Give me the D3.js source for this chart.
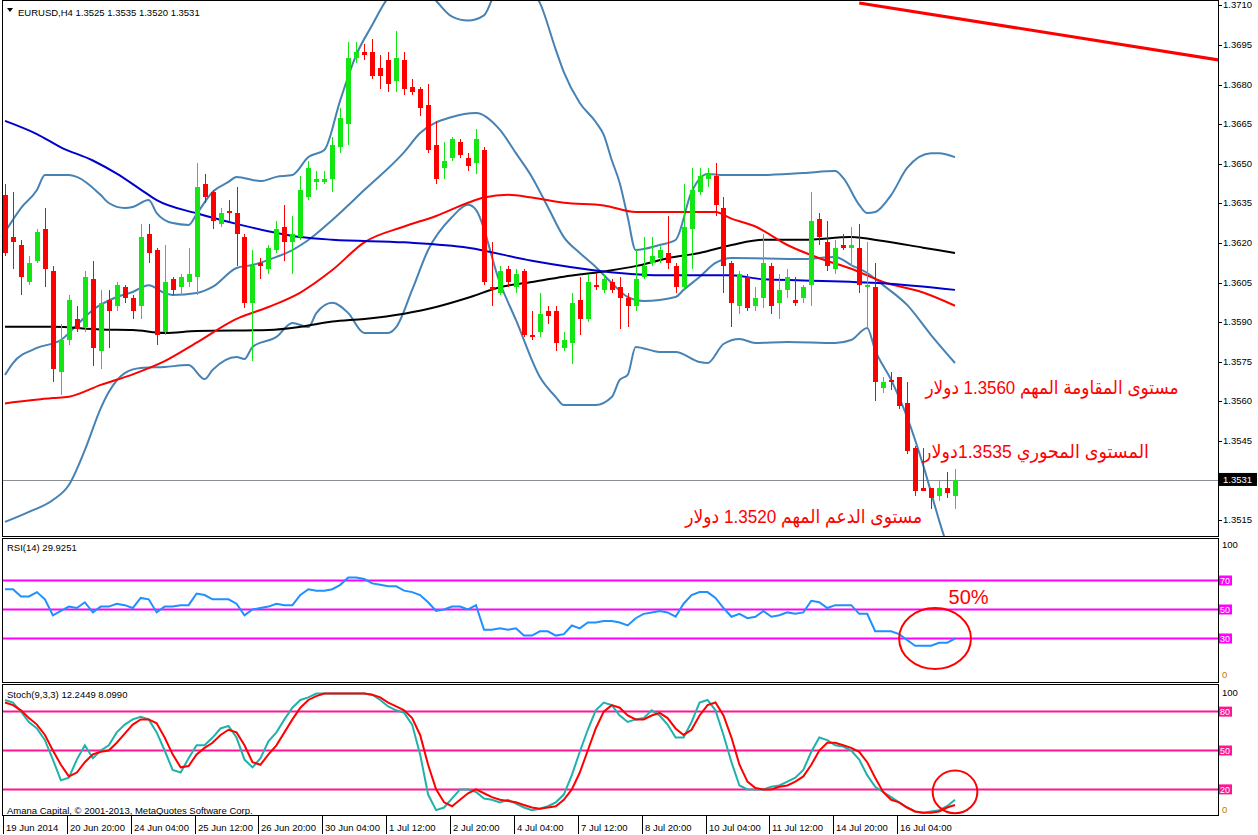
<!DOCTYPE html>
<html><head><meta charset="utf-8">
<script src="https://cdn.jsdelivr.net/npm/d3@7"></script>
<style>body{margin:0;background:#fff;}svg{display:block;}</style>
</head><body><svg id="c" width="1258" height="835"></svg>
<script>
// ---------------- DATA ----------------
const symbolTitle = "EURUSD,H4  1.3525 1.3535 1.3520 1.3531";
const rsiTitle = "RSI(14) 29.9251";
const stochTitle = "Stoch(9,3,3) 12.2449 8.0990";
const copyright = "Amana Capital, \u00A9 2001-2013, MetaQuotes Software Corp.";

const opens = [1.3639,1.3623,1.3620,1.3606,1.3614,1.3626,1.3610,1.3572,1.3584,1.3592,
1.3589,1.3607,1.3580,1.3599,1.3597,1.3604,1.3600,1.3597,1.3624,1.3618,
1.3587,1.3607,1.3604,1.3606,1.3608,1.3643,1.3640,1.3628,1.3633,1.3632,
1.3623,1.3598,1.3613,1.3611,1.3618,1.3627,1.3621,1.3623,1.3638,1.3644,
1.3644,1.3645,1.3657,1.3666,1.3691,1.3693,1.3693,1.3687,1.3690,1.3682,
1.3690,1.3680,1.3679,1.3673,1.3658,1.3649,1.3653,1.3659,1.3653,1.3651,
1.3656,1.3604,1.3602,1.3611,1.3604,1.3610,1.3586,1.3587,1.3595,1.3595,
1.3581,1.3583,1.3599,1.3592,1.3605,1.3603,1.3606,1.3604,1.3600,1.3597,
1.3608,1.3613,1.3615,1.3617,1.3612,1.3604,1.3626,1.3640,1.3645,1.3646,
1.3634,1.3613,1.3597,1.3608,1.3597,1.3600,1.3612,1.3598,1.3603,1.3599,
1.3600,1.3605,1.3630,1.3621,1.3611,1.3620,1.3619,1.3619,1.3604,1.3604,
1.3566,1.3569,1.3570,1.3560,1.3543,1.3528,1.3528,1.3525,1.3528,1.3525];
const highs = [1.3643,1.3640,1.3622,1.3616,1.3626,1.3634,1.3612,1.3590,1.3601,1.3597,
1.3610,1.3614,1.3603,1.3603,1.3606,1.3605,1.3601,1.3628,1.3628,1.3619,
1.3620,1.3608,1.3609,1.3619,1.3651,1.3647,1.3641,1.3634,1.3637,1.3642,
1.3624,1.3618,1.3615,1.3620,1.3629,1.3635,1.3631,1.3646,1.3652,1.3648,
1.3648,1.3661,1.3672,1.3697,1.3697,1.3696,1.3698,1.3692,1.3693,1.3701,
1.3693,1.3683,1.3680,1.3681,1.3667,1.3659,1.3661,1.3660,1.3655,1.3664,
1.3657,1.3621,1.3612,1.3612,1.3611,1.3611,1.3595,1.3602,1.3597,1.3597,
1.3587,1.3602,1.3608,1.3609,1.3609,1.3609,1.3607,1.3608,1.3602,1.3618,
1.3623,1.3623,1.3620,1.3631,1.3613,1.3643,1.3649,1.3649,1.3649,1.3651,
1.3638,1.3614,1.3610,1.3609,1.3604,1.3624,1.3613,1.3609,1.3611,1.3608,
1.3605,1.3640,1.3632,1.3629,1.3622,1.3624,1.3627,1.3628,1.3621,1.3613,
1.3570,1.3572,1.3570,1.3568,1.3544,1.3543,1.3528,1.3531,1.3534,1.3535];
const lows = [1.3616,1.3611,1.3601,1.3605,1.3613,1.3604,1.3568,1.3563,1.3582,1.3587,
1.3587,1.3574,1.3573,1.3581,1.3595,1.3598,1.3592,1.3592,1.3613,1.3582,
1.3586,1.3601,1.3601,1.3604,1.3601,1.3636,1.3626,1.3627,1.3629,1.3612,
1.3596,1.3576,1.3607,1.3609,1.3617,1.3614,1.3609,1.3622,1.3637,1.3641,
1.3643,1.3640,1.3655,1.3658,1.3689,1.3690,1.3683,1.3679,1.3678,1.3678,
1.3677,1.3677,1.3669,1.3655,1.3643,1.3645,1.3652,1.3653,1.3648,1.3647,
1.3605,1.3597,1.3601,1.3604,1.3602,1.3585,1.3584,1.3585,1.3590,1.3580,
1.3580,1.3575,1.3586,1.3591,1.3603,1.3602,1.3602,1.3588,1.3589,1.3595,
1.3607,1.3612,1.3613,1.3611,1.3602,1.3603,1.3611,1.3639,1.3642,1.3631,
1.3602,1.3589,1.3594,1.3595,1.3595,1.3596,1.3594,1.3592,1.3600,1.3597,
1.3598,1.3597,1.3620,1.3610,1.3609,1.3618,1.3612,1.3602,1.3589,1.3561,
1.3564,1.3565,1.3558,1.3541,1.3525,1.3527,1.3520,1.3523,1.3524,1.3520];
const closes = [1.3617,1.3621,1.3608,1.3613,1.3625,1.3611,1.3573,1.3584,1.3599,1.3588,
1.3608,1.3581,1.3598,1.3595,1.3605,1.3600,1.3595,1.3623,1.3617,1.3586,
1.3606,1.3603,1.3608,1.3609,1.3642,1.3638,1.3629,1.3632,1.3632,1.3624,
1.3598,1.3612,1.3612,1.3619,1.3626,1.3621,1.3624,1.3641,1.3649,1.3645,
1.3645,1.3658,1.3668,1.3691,1.3693,1.3692,1.3684,1.3684,1.3681,1.3691,
1.3679,1.3678,1.3672,1.3656,1.3645,1.3652,1.3660,1.3654,1.3650,1.3660,
1.3606,1.3603,1.3610,1.3606,1.3609,1.3586,1.3585,1.3594,1.3593,1.3583,
1.3584,1.3598,1.3592,1.3606,1.3604,1.3607,1.3603,1.3600,1.3597,1.3607,
1.3612,1.3616,1.3618,1.3613,1.3604,1.3627,1.3641,1.3646,1.3647,1.3635,
1.3612,1.3598,1.3609,1.3596,1.3600,1.3613,1.3597,1.3603,1.3608,1.3598,
1.3604,1.3629,1.3623,1.3612,1.3619,1.3619,1.3620,1.3605,1.3605,1.3568,
1.3568,1.3568,1.3559,1.3542,1.3527,1.3527,1.3524,1.3528,1.3526,1.3531];

// moving averages / bollinger bands sampled at [bar index, price]
const maBlue = [[0,1.3667],[4,1.3662],[7,1.3657],[11,1.3652],[14,1.3647],[17,1.3641],[19,1.3637],[24,1.3632],[29,1.3628],[37,1.3623],[41,1.3622],[50,1.3621],[58,1.3619],[66,1.3614],[75,1.3610],[83,1.36085],[91,1.36085],[95,1.3607],[100,1.36066],[110,1.36055],[119,1.3603]];
const maRed = [[0,1.3560],[6,1.3562],[8,1.35625],[12,1.3567],[16,1.3571],[20,1.3576],[24,1.3583],[29,1.3592],[33,1.35965],[37,1.3602],[41,1.36105],[45,1.3621],[50,1.3627],[54,1.3631],[58,1.3636],[60,1.3638],[63,1.3639],[66,1.3638],[70,1.3636],[75,1.3635],[79,1.36325],[83,1.36325],[89,1.36325],[91,1.3630],[94,1.3627],[98,1.3620],[102,1.3615],[106,1.3611],[110,1.3606],[115,1.3602],[119,1.3597]];
const maBlack = [[0,1.3589],[6,1.3589],[12,1.3588],[16,1.35878],[20,1.35867],[24,1.35874],[33,1.35878],[37,1.3589],[41,1.3591],[45,1.3592],[50,1.3594],[54,1.35965],[58,1.3600],[62,1.3604],[66,1.3606],[70,1.3608],[75,1.3610],[79,1.3612],[83,1.3615],[87,1.3617],[91,1.3620],[95,1.3622],[100,1.3622],[106,1.3623],[110,1.36215],[115,1.3619],[119,1.3617]];
const bbUpper = [[0,1.36249],[2,1.36340],[4,1.36408],[5,1.36465],[8,1.36465],[9,1.36458],[12,1.36389],[13,1.36359],[15,1.36340],[16,1.36344],[18,1.36370],[19,1.36321],[21,1.36283],[23,1.36276],[24,1.36317],[26,1.36401],[28,1.36439],[29,1.36458],[32,1.36442],[34,1.36458],[36,1.36465],[38,1.36533],[40,1.36560],[42,1.36749],[44,1.36920],[46,1.37033],[48,1.37136],[50,1.37170],[53,1.37150],[56,1.37065],[58,1.37050],[60,1.37070],[62,1.37190],[64,1.37204],[66,1.37166],[67,1.37117],[69,1.36939],[70,1.36855],[72,1.36738],[74,1.36666],[75,1.36617],[76,1.36522],[77,1.36435],[78,1.36306],[79,1.36181],[82,1.36200],[84,1.36219],[86,1.36401],[88,1.36469],[90,1.36465],[94,1.36465],[100,1.36473],[104,1.36480],[105,1.36454],[107,1.36352],[108,1.36321],[109,1.36325],[111,1.36389],[113,1.36492],[116,1.36548],[117,1.36548],[119,1.36533]];
const bbMiddle = [[0,1.35708],[1,1.35753],[4,1.35810],[7,1.35840],[9,1.35897],[11,1.35954],[14,1.36003],[16,1.36022],[18,1.36048],[20,1.36018],[21,1.36011],[24,1.36018],[26,1.36041],[29,1.36113],[31,1.36124],[34,1.36155],[36,1.36181],[38,1.36219],[41,1.36295],[45,1.36408],[50,1.36552],[52,1.36624],[56,1.36685],[59,1.36700],[62,1.36636],[64,1.36548],[66,1.36458],[68,1.36344],[70,1.36230],[72,1.36170],[74,1.36117],[76,1.36056],[78,1.36003],[80,1.35988],[84,1.36003],[85,1.36030],[87,1.36079],[89,1.36132],[91,1.36151],[100,1.36147],[104,1.36155],[106,1.36124],[108,1.36094],[110,1.36048],[113,1.35973],[116,1.35859],[119,1.35753]];
const bbLower = [[0,1.35151],[3,1.35189],[6,1.35234],[8,1.35291],[10,1.35423],[12,1.35582],[13,1.35643],[15,1.35715],[17,1.35734],[20,1.35738],[23,1.35745],[25,1.35692],[26,1.35727],[29,1.35776],[30,1.35768],[31,1.35814],[34,1.35852],[36,1.35905],[38,1.35889],[39,1.35942],[41,1.35981],[43,1.35942],[45,1.35867],[48,1.35867],[49,1.35889],[51,1.36030],[53,1.36181],[56,1.36306],[58,1.36352],[59,1.36333],[62,1.36056],[64,1.35916],[67,1.35700],[69,1.35624],[70,1.35594],[74,1.35594],[76,1.35624],[77,1.35689],[78,1.35708],[79,1.35814],[82,1.35795],[84,1.35795],[87,1.35757],[88,1.35753],[90,1.35825],[92,1.35844],[94,1.35829],[98,1.35833],[104,1.35829],[106,1.35840],[108,1.35886],[109,1.35802],[111,1.35689],[113,1.35548],[115,1.35367],[117,1.35158],[119,1.34969]];

const rsi = [64,64,59,59,62,57,46,49,52,51,55,48,52,52,54,53,51,58,57,48,
52,52,53,53,61,60,57,57,57,54,46,50,51,52,54,53,53,60,64,63,
63,64,67,72,72,71,68,67,66,66,63,62,60,55,49,50,52,52,50,53,
36,36,37,36,37,32,32,35,35,32,33,39,37,41,41,42,42,41,39,44,
47,48,49,48,45,54,60,62,62,58,51,45,47,44,45,49,45,46,48,47,
48,56,55,51,53,53,53,47,47,35,35,35,33,29,25,25,25,27,27,30];
const stochMain = [89,87,80,72,67,58,43,27,29,43,54,44,50,54,64,70,74,76,74,64,
50,35,33,44,54,54,60,67,69,60,43,37,44,57,64,74,83,89,91,94,
94,94,94,94,94,94,93,89,84,81,79,70,47,16,4,6,13,20,20,18,
13,12,10,12,9,6,4,5,7,10,16,31,49,66,81,87,85,77,72,74,
75,81,77,70,60,60,72,87,89,81,62,41,23,20,20,20,22,23,26,29,
35,49,60,58,54,53,50,43,31,22,18,14,10,6,3,2,3,4,7,12];
const stochSignal = [87,85,81,75,70,62,50,39,30,33,41,47,49,50,56,63,70,74,74,71,
60,47,37,38,47,52,56,62,66,64,54,41,39,47,54,64,74,83,89,92,
94,94,94,94,94,94,93,91,87,84,81,75,62,39,20,10,7,12,17,20,
17,14,12,11,10,8,6,5,6,7,12,20,33,50,67,80,85,83,77,74,
74,77,79,75,67,62,66,77,85,87,77,60,39,26,21,20,20,22,23,26,
30,39,50,56,56,54,52,49,41,29,18,12,10,6,3,2,2,3,6,8];

const priceTicks = [1.3710,1.3695,1.3680,1.3665,1.3650,1.3635,1.3620,1.3605,1.3590,1.3575,1.3560,1.3545,1.3515];
const rsiLevels = [70,50,30];
const stochLevels = [80,50,20];
const timeTicks = [[0,"19 Jun 2014"],[8,"20 Jun 20:00"],[16,"24 Jun 04:00"],[24,"25 Jun 12:00"],[32,"26 Jun 20:00"],[40,"30 Jun 04:00"],[48,"1 Jul 12:00"],[56,"2 Jul 20:00"],[64,"4 Jul 04:00"],[72,"7 Jul 12:00"],[80,"8 Jul 20:00"],[88,"10 Jul 04:00"],[96,"11 Jul 12:00"],[104,"14 Jul 20:00"],[112,"16 Jul 04:00"]];
const trendLine = [[107,1.37117],[152,1.36901]];
// text objects placed in chart coordinates: right end bar, baseline price, bar span
const notes = [
  {i:147, p:1.35635, span:31.7, text:"مستوى المقاومة المهم 1.3560 دولار"},
  {i:143.3, p:1.35395, span:28.3, text:"المستوى المحوري 1.3535دولار"},
  {i:114.9, p:1.35148, span:29.7, text:"مستوى الدعم المهم 1.3520 دولار"}
];

// ---------------- SCALES ----------------
const svg = d3.select("#c");
const FONT = "'Liberation Sans', Arial, sans-serif";
const FS = 9.5;
const x = d3.scaleLinear().domain([0,119]).range([5,955]);
const yP = d3.scaleLinear().domain([1.3515,1.3710]).range([522.2,7.4]);
const yR = d3.scaleLinear().domain([0,100]).range([682,537]);
const yS = d3.scaleLinear().domain([0,100]).range([815.3,685.7]);
const R = 1218; // right border

svg.append("rect").attr("width",1258).attr("height",835).attr("fill","#fff");
const defs = svg.append("defs");
function clip(id,x0,y0,x1,y1){defs.append("clipPath").attr("id",id).append("rect").attr("x",x0).attr("y",y0).attr("width",x1-x0).attr("height",y1-y0);}
clip("cm",3,1,R,536); clip("cr",3,539,R,682); clip("cs",3,685,R,815);

// ---------------- MAIN PANEL ----------------
const gm = svg.append("g").attr("clip-path","url(#cm)");
gm.append("line").attr("x1",3).attr("x2",R).attr("y1",Math.round(yP(closes[119]))+0.5).attr("y2",Math.round(yP(closes[119]))+0.5).attr("stroke","#8a8f96").attr("stroke-width",1);

const lineP = d3.line().x(d=>x(d[0])).y(d=>yP(d[1])).curve(d3.curveMonotoneX);
[[bbUpper,"#4682b4"],[bbMiddle,"#4682b4"],[bbLower,"#4682b4"],[maBlack,"#000"],[maRed,"#ff0000"],[maBlue,"#0000cd"]].forEach(([d,c])=>{
  gm.append("path").datum(d).attr("d",lineP).attr("fill","none").attr("stroke",c).attr("stroke-width",2);
});

const bars = d3.range(opens.length);
const up = i=>closes[i]>=opens[i];
const BULL="#14e614", BEAR="#ff0000";
gm.append("g").attr("shape-rendering","crispEdges").selectAll("line").data(bars).join("line")
  .attr("x1",i=>Math.round(x(i))+0.5).attr("x2",i=>Math.round(x(i))+0.5)
  .attr("y1",i=>yP(highs[i])).attr("y2",i=>yP(lows[i]))
  .attr("stroke",i=>up(i)?BULL:BEAR).attr("stroke-width",1);
gm.append("g").attr("shape-rendering","crispEdges").selectAll("rect").data(bars).join("rect")
  .attr("x",i=>Math.round(x(i))-2).attr("width",5)
  .attr("y",i=>yP(Math.max(opens[i],closes[i])))
  .attr("height",i=>Math.max(1.5,Math.abs(yP(opens[i])-yP(closes[i]))))
  .attr("fill",i=>up(i)?BULL:BEAR);

gm.append("line").attr("x1",x(trendLine[0][0])).attr("y1",yP(trendLine[0][1]))
  .attr("x2",x(trendLine[1][0])).attr("y2",yP(trendLine[1][1]))
  .attr("stroke","#ff0000").attr("stroke-width",3);

const barW = x(1)-x(0);
notes.forEach(n=>{
  gm.append("text").attr("x",x(n.i)).attr("y",yP(n.p)).attr("direction","rtl")
    .style("direction","rtl").style("unicode-bidi","embed")
    .attr("text-anchor","start").attr("fill","#ff0000")
    .attr("textLength",n.span*barW).attr("lengthAdjust","spacingAndGlyphs")
    .attr("font-family","'Liberation Sans', 'DejaVu Sans', sans-serif").attr("font-size",19).text(n.text);
});

svg.append("path").attr("d","M7,8 L13,8 L10,12 Z").attr("fill","#000");
svg.append("text").attr("x",18).attr("y",16).attr("font-family",FONT).attr("font-size",FS).attr("fill","#000").text(symbolTitle);

// ---------------- RSI PANEL ----------------
const gr = svg.append("g").attr("clip-path","url(#cr)");
rsiLevels.forEach(v=>gr.append("line").attr("x1",3).attr("x2",R).attr("y1",yR(v)).attr("y2",yR(v)).attr("stroke","#ff00ff").attr("stroke-width",2));
gr.append("path").datum(rsi).attr("d",d3.line().x((d,i)=>x(i)).y(d=>yR(d))).attr("fill","none").attr("stroke","#1e90ff").attr("stroke-width",2);
svg.append("text").attr("x",7).attr("y",551).attr("font-family",FONT).attr("font-size",FS).text(rsiTitle);
gr.append("ellipse").attr("cx",x(116.5)).attr("cy",yR(30)).attr("rx",x(121)-x(116.5)).attr("ry",yR(9)-yR(30)).attr("fill","none").attr("stroke","#ff0000").attr("stroke-width",2);
svg.append("text").attr("x",x(118.2)).attr("y",yR(53.5)).attr("font-family",FONT).attr("font-size",20).attr("fill","#ff0000").text("50%");

// ---------------- STOCH PANEL ----------------
const gs = svg.append("g").attr("clip-path","url(#cs)");
stochLevels.forEach(v=>gs.append("line").attr("x1",3).attr("x2",R).attr("y1",yS(v)).attr("y2",yS(v)).attr("stroke","#ff1493").attr("stroke-width",2));
gs.append("path").datum(stochMain).attr("d",d3.line().x((d,i)=>x(i)).y(d=>yS(d))).attr("fill","none").attr("stroke","#20b2aa").attr("stroke-width",2);
gs.append("path").datum(stochSignal).attr("d",d3.line().x((d,i)=>x(i)).y(d=>yS(d))).attr("fill","none").attr("stroke","#ff0000").attr("stroke-width",2);
gs.append("ellipse").attr("cx",x(119)).attr("cy",yS(18)).attr("rx",x(121.8)-x(119)).attr("ry",yS(0)-yS(16.5)).attr("fill","none").attr("stroke","#ff0000").attr("stroke-width",2);
svg.append("text").attr("x",7).attr("y",698).attr("font-family",FONT).attr("font-size",FS).text(stochTitle);
svg.append("text").attr("x",7).attr("y",814).attr("font-family",FONT).attr("font-size",FS).text(copyright);

// ---------------- FRAMES ----------------
const fr = svg.append("g").attr("fill","none").attr("stroke","#000").attr("stroke-width",1).attr("shape-rendering","crispEdges");
fr.append("rect").attr("x",2.5).attr("y",0.5).attr("width",R-2.5).attr("height",536);
fr.append("rect").attr("x",2.5).attr("y",538.5).attr("width",R-2.5).attr("height",144);
fr.append("rect").attr("x",2.5).attr("y",684.5).attr("width",R-2.5).attr("height",131);

// ---------------- RIGHT AXIS ----------------
const ax = svg.append("g").attr("font-family",FONT).attr("font-size",FS);
priceTicks.forEach(p=>{
  const yy = Math.round(yP(p))-2;
  ax.append("line").attr("x1",R).attr("x2",R+4).attr("y1",yy+0.5).attr("y2",yy+0.5).attr("stroke","#000");
  ax.append("text").attr("x",R+5).attr("y",yy).attr("dy","0.35em").text(d3.format(".4f")(p));
});
const by = yP(closes[119]);
ax.append("rect").attr("x",R+1).attr("y",by-7).attr("width",38).attr("height",13).attr("fill","#000");
ax.append("text").attr("x",R+5).attr("y",by).attr("dy","0.35em").attr("fill","#fff").text(d3.format(".4f")(closes[119]));

function levelLabel(yy,txt,col){
  ax.append("rect").attr("x",R+1).attr("y",yy-5).attr("width",13).attr("height",10).attr("fill",col);
  ax.append("text").attr("x",R+2).attr("y",yy).attr("dy","0.35em").attr("fill","#fff").attr("font-size",9).text(txt);
}
rsiLevels.forEach(v=>levelLabel(yR(v),v,"#ff00ff"));
stochLevels.forEach(v=>levelLabel(yS(v),v,"#ff1493"));
ax.append("text").attr("x",R+4).attr("y",yR(94.5)).attr("dy","0.35em").text("100");
ax.append("text").attr("x",R+4).attr("y",yR(4.8)).attr("dy","0.35em").attr("fill","#c87800").text("0");
ax.append("text").attr("x",R+4).attr("y",yS(95)).attr("dy","0.35em").text("100");
ax.append("text").attr("x",R+4).attr("y",yS(4.5)).attr("dy","0.35em").attr("fill","#c87800").text("0");

// ---------------- TIME AXIS ----------------
const tx = svg.append("g").attr("font-family",FONT).attr("font-size",FS);
timeTicks.forEach(([i,t])=>{
  const xx = Math.round(x(i))-2;
  tx.append("line").attr("x1",xx+0.5).attr("x2",xx+0.5).attr("y1",816).attr("y2",834).attr("stroke","#000").attr("shape-rendering","crispEdges");
  tx.append("text").attr("x",xx+3).attr("y",831).text(t);
});
</script></body></html>
